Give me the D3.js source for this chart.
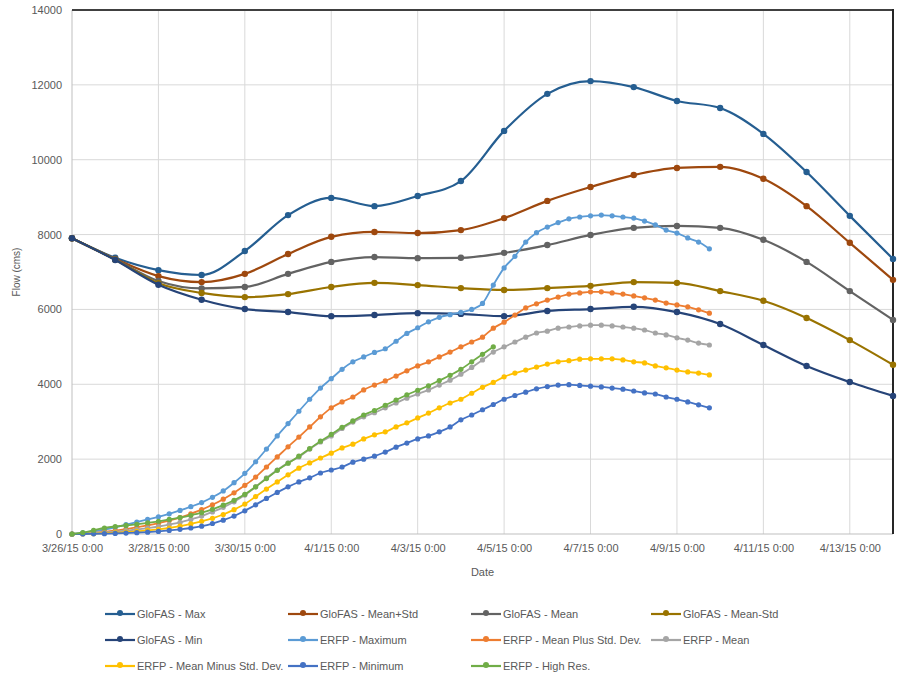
<!DOCTYPE html>
<html>
<head>
<meta charset="utf-8">
<script src="https://cdn.jsdelivr.net/npm/d3@7"></script>
<style>
  body { margin: 0; background: #fff; }
  text { font-family: "Liberation Sans", Arial, sans-serif; }
</style>
</head>
<body>
<div id="chart"></div>
<script>
// GloFAS forecasts: one value per day from 3/26/15 0:00
const glofasMax     = [7900, 7380, 7050, 6920, 7560, 8520, 8980, 8760, 9030, 9430, 10770, 11760, 12100, 11940, 11570, 11380, 10690, 9670, 8500, 7350];
const glofasMeanPlus = [7900, 7350, 6890, 6730, 6950, 7480, 7940, 8070, 8040, 8120, 8440, 8900, 9270, 9590, 9780, 9810, 9490, 8760, 7780, 6790];
const glofasMean    = [7900, 7340, 6760, 6560, 6600, 6950, 7270, 7400, 7370, 7380, 7510, 7720, 7990, 8180, 8230, 8180, 7860, 7270, 6490, 5720];
const glofasMeanMinus = [7900, 7330, 6700, 6440, 6330, 6410, 6600, 6710, 6650, 6570, 6520, 6570, 6630, 6730, 6710, 6490, 6230, 5770, 5180, 4520];
const glofasMin     = [7900, 7320, 6660, 6260, 6010, 5930, 5820, 5850, 5900, 5880, 5820, 5960, 6010, 6070, 5930, 5610, 5050, 4490, 4060, 3690];

// ERFP forecasts: one value every 6 hours from 3/26/15 0:00
const erfpMax = [0, 30, 70, 120, 180, 250, 320, 390, 460, 540, 630, 730, 840, 980, 1150, 1370,
  1620, 1930, 2270, 2620, 2950, 3280, 3600, 3900, 4150, 4400, 4600, 4730, 4850, 4950, 5150, 5360,
  5510, 5670, 5790, 5860, 5920, 6000, 6160, 6650, 7110, 7420, 7800, 8050, 8200, 8320, 8420, 8470,
  8500, 8520, 8500, 8470, 8440, 8360, 8260, 8120, 8040, 7910, 7800, 7620];
const erfpMeanPlus = [0, 10, 30, 60, 90, 130, 180, 230, 290, 360, 440, 540, 650, 780, 930, 1100,
  1300, 1520, 1790, 2060, 2330, 2590, 2860, 3130, 3370, 3530, 3660, 3850, 3980, 4090, 4220, 4360,
  4490, 4600, 4730, 4860, 5000, 5130, 5260, 5500, 5660, 5850, 6040, 6150, 6250, 6330, 6410, 6440,
  6470, 6470, 6440, 6410, 6360, 6310, 6250, 6170, 6120, 6070, 5990, 5900];
const erfpMean = [0, 10, 20, 40, 60, 90, 120, 160, 200, 250, 310, 390, 480, 590, 710, 860,
  1040, 1260, 1500, 1710, 1900, 2060, 2270, 2460, 2620, 2820, 2990, 3130, 3240, 3370, 3500, 3630,
  3740, 3850, 3980, 4110, 4270, 4450, 4650, 4860, 5000, 5130, 5260, 5370, 5420, 5500, 5530, 5560,
  5580, 5580, 5560, 5530, 5500, 5450, 5370, 5320, 5240, 5180, 5100, 5050];
const erfpMeanMinus = [0, 5, 10, 20, 35, 50, 70, 95, 125, 160, 210, 270, 340, 420, 520, 650,
  800, 1000, 1200, 1390, 1580, 1760, 1900, 2030, 2160, 2300, 2400, 2540, 2650, 2730, 2860, 2970,
  3100, 3230, 3370, 3500, 3600, 3760, 3920, 4050, 4200, 4300, 4380, 4460, 4540, 4600, 4630, 4670,
  4680, 4680, 4680, 4650, 4600, 4570, 4490, 4440, 4380, 4330, 4300, 4250];
const erfpMin = [0, 0, 5, 10, 15, 25, 35, 50, 70, 95, 125, 160, 210, 280, 370, 480,
  620, 780, 950, 1110, 1260, 1390, 1500, 1630, 1710, 1790, 1920, 2000, 2080, 2190, 2320, 2430,
  2540, 2620, 2730, 2860, 3050, 3180, 3320, 3460, 3600, 3700, 3790, 3880, 3940, 3980, 3990, 3970,
  3950, 3930, 3900, 3870, 3820, 3770, 3740, 3660, 3600, 3530, 3450, 3370];
const erfpHighRes = [0, 40, 100, 160, 200, 230, 260, 300, 340, 390, 440, 500, 570, 660, 770, 900,
  1060, 1260, 1480, 1700, 1890, 2080, 2280, 2480, 2660, 2850, 3020, 3180, 3300, 3440, 3580, 3720,
  3840, 3960, 4100, 4240, 4400, 4600, 4800, 5000];

const seriesNames = ["GloFAS - Max", "GloFAS - Mean+Std", "GloFAS - Mean", "GloFAS - Mean-Std",
  "GloFAS - Min", "ERFP - Maximum", "ERFP - Mean Plus Std. Dev.", "ERFP - Mean",
  "ERFP - Mean Minus Std. Dev.", "ERFP - Minimum", "ERFP - High Res."];
const seriesColors = ["#255E91", "#9E480E", "#636363", "#997300", "#264478",
  "#5B9BD5", "#ED7D31", "#A5A5A5", "#FFC000", "#4472C4", "#70AD47"];
const seriesValues = [glofasMax, glofasMeanPlus, glofasMean, glofasMeanMinus, glofasMin,
  erfpMax, erfpMeanPlus, erfpMean, erfpMeanMinus, erfpMin, erfpHighRes];
const seriesStepHours = [24, 24, 24, 24, 24, 6, 6, 6, 6, 6, 6];

const yTicks = [0, 2000, 4000, 6000, 8000, 10000, 12000, 14000];

const width = 899, height = 676;
const margin = { top: 10, right: 6, bottom: 142, left: 72 };
const innerW = width - margin.left - margin.right;
const innerH = height - margin.top - margin.bottom;

const start = new Date(Date.UTC(2015, 2, 26));
const end = new Date(Date.UTC(2015, 3, 14));

const series = seriesNames.map(function(name, i) {
  return {
    name: name,
    color: seriesColors[i],
    glofas: i < 5,
    values: seriesValues[i].map(function(v, k) {
      return { date: d3.utcHour.offset(start, k * seriesStepHours[i]), flow: v };
    })
  };
});

const svg = d3.select("#chart").append("svg")
  .attr("width", width)
  .attr("height", height);

const x = d3.scaleUtc().domain([start, end]).range([0, innerW]);
const y = d3.scaleLinear().domain([0, 14000]).range([innerH, 0]);

const g = svg.append("g").attr("transform", `translate(${margin.left},${margin.top})`);

// gridlines
const xTickDates = d3.utcDay.range(start, end, 2);
g.append("g").selectAll("line").data(yTicks.slice(1)).join("line")
  .attr("x1", 0).attr("x2", innerW)
  .attr("y1", d => y(d)).attr("y2", d => y(d))
  .attr("stroke", "#D9D9D9").attr("stroke-width", 1);
g.append("g").selectAll("line").data(xTickDates.slice(1)).join("line")
  .attr("x1", d => x(d)).attr("x2", d => x(d))
  .attr("y1", 0).attr("y2", innerH)
  .attr("stroke", "#D9D9D9").attr("stroke-width", 1);

// axes lines
g.append("line").attr("x1", 0).attr("x2", 0).attr("y1", 0).attr("y2", innerH)
  .attr("stroke", "#BFBFBF");
g.append("line").attr("x1", 0).attr("x2", innerW).attr("y1", innerH).attr("y2", innerH)
  .attr("stroke", "#BFBFBF");
g.append("line").attr("x1", 0).attr("x2", innerW).attr("y1", 0).attr("y2", 0)
  .attr("stroke", "#404040").attr("stroke-width", 2);
g.append("line").attr("x1", innerW).attr("x2", innerW).attr("y1", -1).attr("y2", innerH)
  .attr("stroke", "#262626").attr("stroke-width", 2);

// y axis labels
const yAxis = g.append("g")
  .call(d3.axisLeft(y).tickValues(yTicks).tickSize(0).tickPadding(10).tickFormat(d3.format("d")));
yAxis.select(".domain").remove();
yAxis.selectAll("text").attr("fill", "#595959").style("font-size", "11px");

// x axis labels
const xAxis = g.append("g")
  .attr("transform", `translate(0,${innerH})`)
  .call(d3.axisBottom(x).tickValues(xTickDates).tickSize(0).tickPadding(10)
    .tickFormat(d3.utcFormat("%-m/%-d/%y %-H:%M")));
xAxis.select(".domain").remove();
xAxis.selectAll("text").attr("fill", "#595959").style("font-size", "11px");

// axis titles
svg.append("text")
  .attr("transform", `translate(20,${margin.top + innerH / 2}) rotate(-90)`)
  .attr("text-anchor", "middle")
  .attr("fill", "#595959")
  .style("font-size", "10px")
  .text("Flow (cms)");
svg.append("text")
  .attr("x", margin.left + innerW / 2)
  .attr("y", 576)
  .attr("text-anchor", "middle")
  .attr("fill", "#595959")
  .style("font-size", "11px")
  .text("Date");

const line = d3.line()
  .x(d => x(d.date))
  .y(d => y(d.flow))
  .curve(d3.curveMonotoneX);

series.forEach(function(s) {
  const sg = g.append("g");
  sg.append("path")
    .datum(s.values)
    .attr("fill", "none")
    .attr("stroke", s.color)
    .attr("stroke-width", s.glofas ? 2.2 : 1.8)
    .attr("d", line);
  sg.selectAll("circle").data(s.values).join("circle")
    .attr("cx", d => x(d.date))
    .attr("cy", d => y(d.flow))
    .attr("r", s.glofas ? 3.2 : 2.6)
    .attr("fill", s.color);
});

// legend
const legendCols = [137, 320, 503, 683];
const legendRows = [614, 640, 666];
const legend = svg.append("g");
series.forEach(function(s, i) {
  const lx = legendCols[i % 4];
  const ly = legendRows[Math.floor(i / 4)];
  const item = legend.append("g");
  item.append("line")
    .attr("x1", lx - 32).attr("x2", lx - 2)
    .attr("y1", ly).attr("y2", ly)
    .attr("stroke", s.color).attr("stroke-width", 2.2);
  item.append("circle")
    .attr("cx", lx - 17).attr("cy", ly - 1)
    .attr("r", 3).attr("fill", s.color);
  item.append("text")
    .attr("x", lx).attr("y", ly)
    .attr("dy", "0.35em")
    .attr("fill", "#595959")
    .style("font-size", "11px")
    .text(s.name);
});
</script>
</body>
</html>
